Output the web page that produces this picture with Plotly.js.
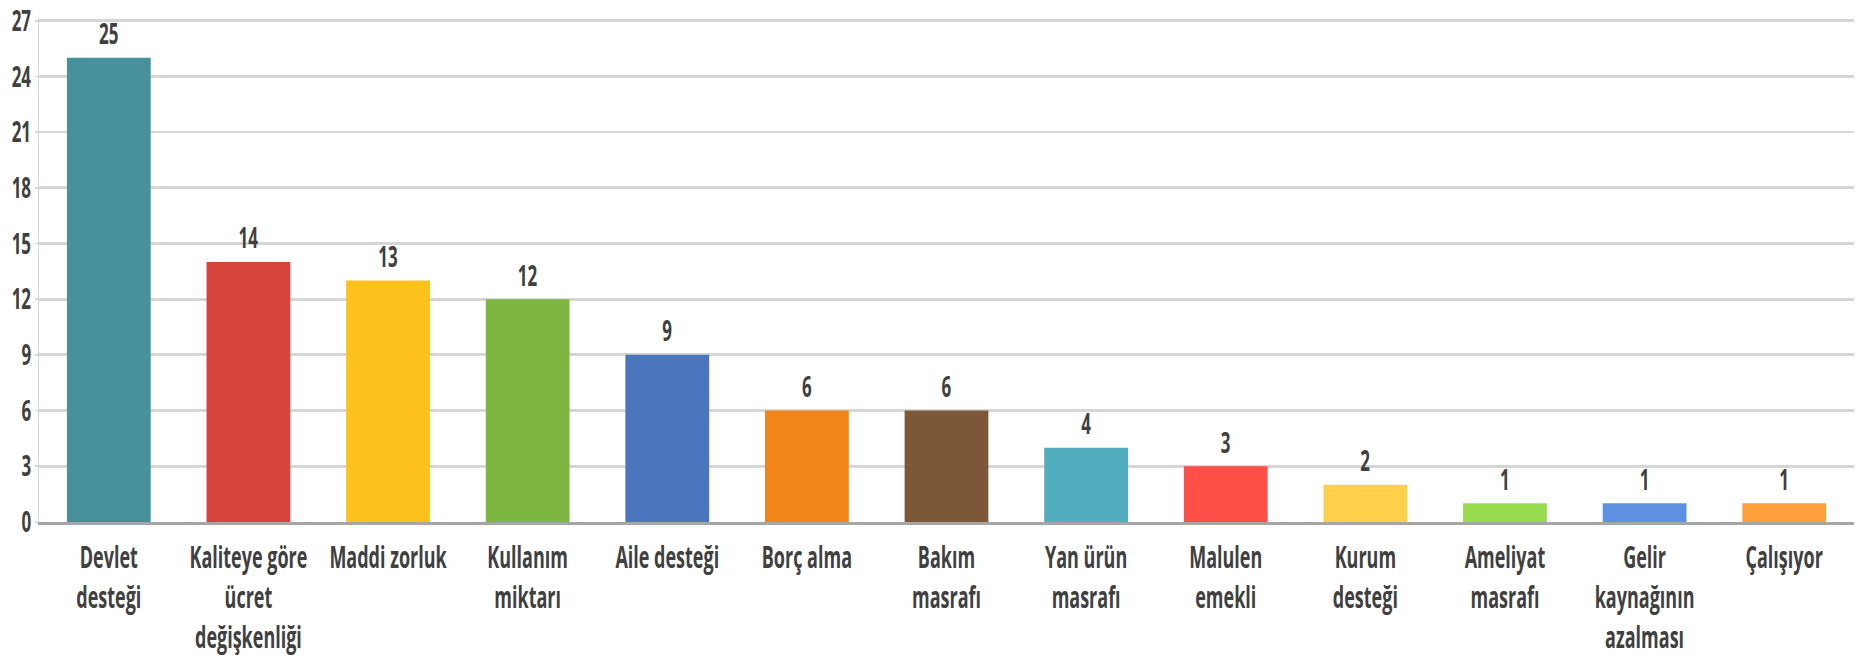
<!DOCTYPE html>
<html>
<head>
<meta charset="utf-8">
<script src="https://cdn.plot.ly/plotly-3.0.1.min.js"></script>
<style>
  html, body { margin: 0; padding: 0; overflow: hidden; background: #ffffff; }
  #wrap { width: 1861px; height: 665px; overflow: hidden; position: relative; }
  #chart { width: 1861px; transform-origin: 0 0; }
</style>
</head>
<body>
<div id="wrap"><div id="chart"></div></div>
<script>
// Data
const categories = [
  "Devlet<br>desteği",
  "Kaliteye göre<br>ücret<br>değişkenliği",
  "Maddi zorluk",
  "Kullanım<br>miktarı",
  "Aile desteği",
  "Borç alma",
  "Bakım<br>masrafı",
  "Yan ürün<br>masrafı",
  "Malulen<br>emekli",
  "Kurum<br>desteği",
  "Ameliyat<br>masrafı",
  "Gelir<br>kaynağının<br>azalması",
  "Çalışıyor"
];
const values = [25, 14, 13, 12, 9, 6, 6, 4, 3, 2, 1, 1, 1];
const barColors = [
  "#47919b", "#d6433b", "#fcc21b", "#7db641", "#4a76be", "#f18519", "#7c5839",
  "#52aebe", "#ff4f48", "#ffd04a", "#98dc4e", "#5b91e0", "#ffa03a"
];
const yTicks = [0, 3, 6, 9, 12, 15, 18, 21, 24, 27];
const yMax = 27.2;

// Vertical stretch to mimic the tall, narrow lettering of the reference
const S = 1.7;
const W = 1861, H = 665;
const h = H / S;
document.getElementById('chart').style.height = h + 'px';
document.getElementById('chart').style.transform = 'scaleY(' + S + ')';

// pixel placement of y=0 and y=27 in the final (stretched) picture
const y0px = 523, y27px = 20;
const unit = (y0px - y27px) / S / 27;
const topMargin = y27px / S - (yMax - 27) * unit;

const fontFam = '"Open Sans", "Noto Sans", "DejaVu Sans", sans-serif';
const txtColor = '#404040';

const trace = {
  type: 'bar',
  x: categories,
  y: values,
  marker: { color: barColors },
  text: values.map(String),
  textposition: 'outside',
  cliponaxis: false,
  textfont: { family: fontFam, size: 17, color: txtColor, weight: 700 },
  hoverinfo: 'skip'
};

const layout = {
  width: W,
  height: h,
  margin: { l: 39, r: 7, t: topMargin, b: h - y0px / S, pad: 0 },
  paper_bgcolor: '#ffffff',
  plot_bgcolor: '#ffffff',
  showlegend: false,
  bargap: 0.4,
  xaxis: {
    type: 'category',
    showgrid: false,
    showline: true,
    linecolor: '#a6a6a6',
    linewidth: 1.6,
    ticks: 'outside',
    ticklen: 4,
    tickcolor: 'rgba(0,0,0,0)',
    tickangle: 0,
    tickfont: { family: fontFam, size: 18, color: txtColor, weight: 700 },
    zeroline: false,
    fixedrange: true
  },
  yaxis: {
    range: [0, yMax],
    tickvals: yTicks,
    ticktext: yTicks.map(String),
    ticklabeloverflow: 'allow',
    showgrid: true,
    gridcolor: '#d6d6d6',
    gridwidth: 1.6,
    showline: true,
    linecolor: '#d6d6d6',
    linewidth: 1.5,
    ticks: 'outside',
    ticklen: 3,
    tickcolor: '#d6d6d6',
    tickfont: { family: fontFam, size: 17, color: txtColor, weight: 700 },
    zeroline: false,
    fixedrange: true
  }
};

Plotly.newPlot('chart', [trace], layout, { displayModeBar: false, staticPlot: true, responsive: false });
</script>
</body>
</html>
